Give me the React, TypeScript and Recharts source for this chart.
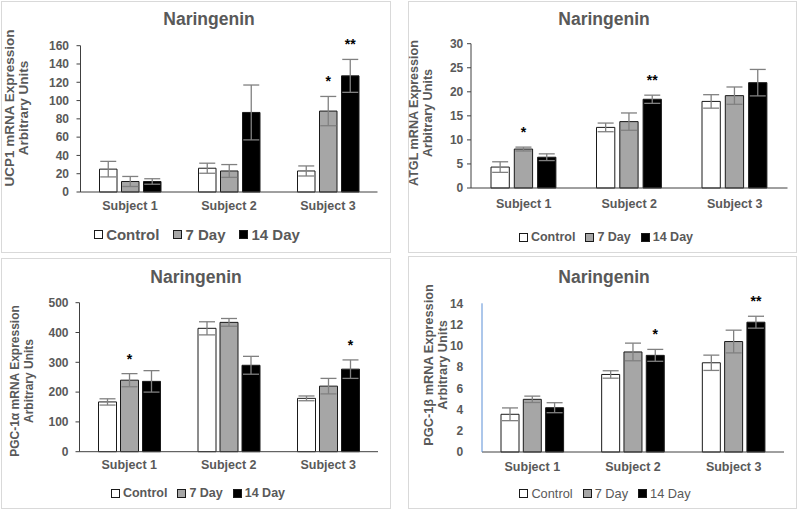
import React from 'react';
import { BarChart, Bar, XAxis, YAxis, ErrorBar, LabelList } from 'recharts';

const subjects = ['Subject 1', 'Subject 2', 'Subject 3'];
const seriesNames = ['Control', '7 Day', '14 Day'];

// UCP1
const ucp1Control = [25, 26, 23];
const ucp1ControlErr = [8.5, 5.5, 5.5];
const ucp1Day7 = [11.5, 23, 88.5];
const ucp1Day7Err = [5.5, 7, 16];
const ucp1Day14 = [11.5, 87, 127];
const ucp1Day14Err = [3, 30, 18];
const ucp1Day7Sig = ['', '', '*'];
const ucp1Day14Sig = ['', '', '**'];
const ucp1Ticks = [0, 20, 40, 60, 80, 100, 120, 140, 160];

// ATGL
const atglControl = [4.35, 12.6, 18.0];
const atglControlErr = [1.1, 0.9, 1.4];
const atglDay7 = [8.1, 13.8, 19.2];
const atglDay7Err = [0.4, 1.8, 1.8];
const atglDay14 = [6.4, 18.45, 21.9];
const atglDay14Err = [0.7, 0.85, 2.75];
const atglDay7Sig = ['*', '', ''];
const atglDay14Sig = ['', '**', ''];
const atglTicks = [0, 5, 10, 15, 20, 25, 30];

// PGC-1α
const pgcaControl = [167, 414, 179];
const pgcaControlErr = [10.5, 22, 8];
const pgcaDay7 = [240, 434, 220];
const pgcaDay7Err = [22, 13, 26];
const pgcaDay14 = [236, 290, 277];
const pgcaDay14Err = [36, 30, 31];
const pgcaDay7Sig = ['*', '', ''];
const pgcaDay14Sig = ['', '', '*'];
const pgcaTicks = [0, 100, 200, 300, 400, 500];

// PGC-1β
const pgcbControl = [3.55, 7.3, 8.4];
const pgcbControlErr = [0.6, 0.35, 0.72];
const pgcbDay7 = [4.96, 9.42, 10.4];
const pgcbDay7Err = [0.3, 0.83, 1.07];
const pgcbDay14 = [4.17, 9.1, 12.22];
const pgcbDay14Err = [0.47, 0.56, 0.56];
const pgcbDay7Sig = ['', '', ''];
const pgcbDay14Sig = ['', '*', '**'];
const pgcbTicks = [0, 2, 4, 6, 8, 10, 12, 14];

function buildRows(c, ce, d7, d7e, d14, d14e, s7, s14) {
  return subjects.map((s, i) => ({
    subject: s,
    control: c[i],
    controlErr: ce[i],
    day7: d7[i],
    day7Err: d7e[i],
    day7Sig: s7[i],
    day14: d14[i],
    day14Err: d14e[i],
    day14Sig: s14[i],
  }));
}

const ucp1Rows = buildRows(ucp1Control, ucp1ControlErr, ucp1Day7, ucp1Day7Err, ucp1Day14, ucp1Day14Err, ucp1Day7Sig, ucp1Day14Sig);
const atglRows = buildRows(atglControl, atglControlErr, atglDay7, atglDay7Err, atglDay14, atglDay14Err, atglDay7Sig, atglDay14Sig);
const pgcaRows = buildRows(pgcaControl, pgcaControlErr, pgcaDay7, pgcaDay7Err, pgcaDay14, pgcaDay14Err, pgcaDay7Sig, pgcaDay14Sig);
const pgcbRows = buildRows(pgcbControl, pgcbControlErr, pgcbDay7, pgcbDay7Err, pgcbDay14, pgcbDay14Err, pgcbDay7Sig, pgcbDay14Sig);

const FONT = "'Liberation Sans', Arial, Helvetica, sans-serif";
const TEXT = '#595959';
const AXIS = '#404040';
const OUTLINE = '#1a1a1a';
const ERR = '#808080';
const GRAY = '#a6a6a6';
const FILLS = ['#ffffff', GRAY, '#000000'];

function makeSig(key: string) {
  return (props: any) => {
    const row = props.value;
    if (!row || typeof row !== 'object') return null;
    const sig = row[key + 'Sig'];
    if (!sig) return null;
    const vb = props.viewBox && props.viewBox.width != null ? props.viewBox : props;
    const x = Number(vb.x), y = Number(vb.y), w = Number(vb.width), h = Number(vb.height);
    const v = row[key];
    const e = row[key + 'Err'];
    const errTop = v > 0 ? y - e * (h / v) : y;
    return (
      <text x={x + w / 2} y={errTop - 10} textAnchor="middle" fontFamily={FONT} fontWeight={700} fontSize={14} fill="#000">
        {sig}
      </text>
    );
  };
}

const panels = [
  {
    ox: 0, oy: 0, data: ucp1Rows, ticks: ucp1Ticks, domain: [0, 160],
    yl1: 'UCP1 mRNA Expression', yl2: 'Arbitrary Units', ylSize: 13.5, ylX1: 13.5, ylX2: 27.5, ylCy: 108,
    titleX: 209, titleY: 25,
    margin: { top: 45.7, right: 22.5, bottom: 34, left: 0 }, yw: 80.5,
    barSize: 17.5, barGap: 4.5, xTickMargin: 3, yTickSize: 4, yTickMargin: 7.5, yAxisColor: AXIS,
    legendY: 234, legendSize: 15, legendBold: true, legendGap: 14, legendCx: 197,
  },
  {
    ox: 400, oy: 0, data: atglRows, ticks: atglTicks, domain: [0, 30],
    yl1: 'ATGL mRNA Expression', yl2: 'Arbitrary Units', ylSize: 12.6, ylX1: 18, ylX2: 32, ylCy: 113,
    titleX: 204, titleY: 25,
    margin: { top: 43.7, right: 12.5, bottom: 38, left: 0 }, yw: 71,
    barSize: 18.3, barGap: 5, xTickMargin: 5, yTickSize: 4, yTickMargin: 3.7, yAxisColor: AXIS,
    legendY: 237, legendSize: 12.5, legendBold: true, legendGap: 10, legendCx: 206,
  },
  {
    ox: 0, oy: 256, data: pgcaRows, ticks: pgcaTicks, domain: [0, 500],
    yl1: 'PGC-1\u03b1 mRNA Expression', yl2: 'Arbitrary Units', ylSize: 12, ylX1: 19, ylX2: 33, ylCy: 125,
    titleX: 196, titleY: 27,
    margin: { top: 46.7, right: 22, bottom: 30.3, left: 0 }, yw: 79.5,
    barSize: 18, barGap: 4, xTickMargin: 2.6, yTickSize: 4, yTickMargin: 7, yAxisColor: AXIS,
    legendY: 237, legendSize: 12.5, legendBold: true, legendGap: 10, legendCx: 198,
  },
  {
    ox: 400, oy: 256, data: pgcbRows, ticks: pgcbTicks, domain: [0, 14],
    yl1: 'PGC-1\u03b2 mRNA Expression', yl2: 'Arbitrary Units', ylSize: 12.8, ylX1: 33, ylX2: 47, ylCy: 109,
    titleX: 204, titleY: 27,
    margin: { top: 47.3, right: 16, bottom: 30, left: 0 }, yw: 82,
    barSize: 18, barGap: 4.3, xTickMargin: 3.7, yTickSize: 0, yTickMargin: 18.7, yAxisColor: '#5b8fd6',
    legendY: 237, legendSize: 12.8, legendBold: false, legendGap: 10, legendCx: 205,
  },
];

const borders = [
  { x: 1, y: 1, w: 390, h: 252 },
  { x: 408, y: 1, w: 389, h: 252 },
  { x: 1, y: 258, w: 390, h: 251 },
  { x: 408, y: 256, w: 389, h: 253 },
];

function Panel({ p }: { p: any }) {
  const W = 400, H = 256;
  const tickStyle = { fill: TEXT, fontSize: 12, fontWeight: 700, fontFamily: FONT };
  return (
    <div style={{ position: 'absolute', left: p.ox, top: p.oy, width: W, height: H }}>
      <BarChart width={W} height={H} data={p.data} margin={p.margin} barSize={p.barSize} barGap={p.barGap}>
        <XAxis
          dataKey="subject"
          tickLine={false}
          axisLine={{ stroke: AXIS, strokeWidth: 1 }}
          height={30}
          tickMargin={p.xTickMargin}
          interval={0}
          tick={{ fill: TEXT, fontSize: 12.5, fontWeight: 700, fontFamily: FONT }}
        />
        <YAxis
          domain={p.domain}
          ticks={p.ticks}
          width={p.yw}
          interval={0}
          tickSize={p.yTickSize}
          tickLine={p.yTickSize > 0 ? { stroke: AXIS } : false}
          tickMargin={p.yTickMargin}
          axisLine={{ stroke: p.yAxisColor, strokeWidth: 1 }}
          tick={tickStyle}
        />
        <Bar dataKey="control" fill={FILLS[0]} stroke={OUTLINE} strokeWidth={1} isAnimationActive={false}>
          <ErrorBar dataKey="controlErr" width={8} stroke={ERR} strokeWidth={1.3} direction="y" />
        </Bar>
        <Bar dataKey="day7" fill={FILLS[1]} stroke={OUTLINE} strokeWidth={1} isAnimationActive={false}>
          <ErrorBar dataKey="day7Err" width={8} stroke={ERR} strokeWidth={1.3} direction="y" />
          <LabelList dataKey={(r: any) => r} content={makeSig('day7')} />
        </Bar>
        <Bar dataKey="day14" fill={FILLS[2]} stroke={OUTLINE} strokeWidth={1} isAnimationActive={false}>
          <ErrorBar dataKey="day14Err" width={8} stroke={ERR} strokeWidth={1.3} direction="y" />
          <LabelList dataKey={(r: any) => r} content={makeSig('day14')} />
        </Bar>
      </BarChart>
      <svg width={W} height={H} style={{ position: 'absolute', left: 0, top: 0, pointerEvents: 'none' }}>
        <text x={p.titleX} y={p.titleY} textAnchor="middle" fontFamily={FONT} fontWeight={700} fontSize={17.5} fill={TEXT}>
          Naringenin
        </text>
        <text
          transform={`translate(${p.ylX1},${p.ylCy}) rotate(-90)`}
          textAnchor="middle"
          fontFamily={FONT}
          fontWeight={700}
          fontSize={p.ylSize}
          fill={TEXT}
        >
          <tspan x={0} y={0}>{p.yl1}</tspan>
          <tspan x={0} y={p.ylX2 - p.ylX1}>{p.yl2}</tspan>
        </text>
      </svg>
      <div
        style={{
          position: 'absolute',
          left: p.legendCx - 200,
          width: 400,
          top: p.legendY - 10,
          height: 20,
          display: 'flex',
          justifyContent: 'center',
          alignItems: 'center',
          fontFamily: FONT,
          fontSize: p.legendSize,
          fontWeight: p.legendBold ? 700 : 400,
          color: TEXT,
          whiteSpace: 'nowrap',
        }}
      >
        {seriesNames.map((name, i) => (
          <span key={name} style={{ display: 'flex', alignItems: 'center', marginLeft: i === 0 ? 0 : p.legendGap }}>
            <span
              style={{
                display: 'inline-block',
                width: 9,
                height: 9,
                boxSizing: 'border-box',
                border: `1px solid ${OUTLINE}`,
                background: FILLS[i],
                marginRight: 3,
              }}
            />
            <span>{name}</span>
          </span>
        ))}
      </div>
    </div>
  );
}

export default function App() {
  return (
    <div style={{ position: 'absolute', left: 0, top: 0, width: 800, height: 512, background: '#fff', overflow: 'hidden' }}>
      {borders.map((b, i) => (
        <div
          key={i}
          style={{
            position: 'absolute',
            left: b.x,
            top: b.y,
            width: b.w,
            height: b.h,
            border: '1px solid #d9d9d9',
            boxSizing: 'border-box',
          }}
        />
      ))}
      {panels.map((p, i) => (
        <Panel key={i} p={p} />
      ))}
    </div>
  );
}
